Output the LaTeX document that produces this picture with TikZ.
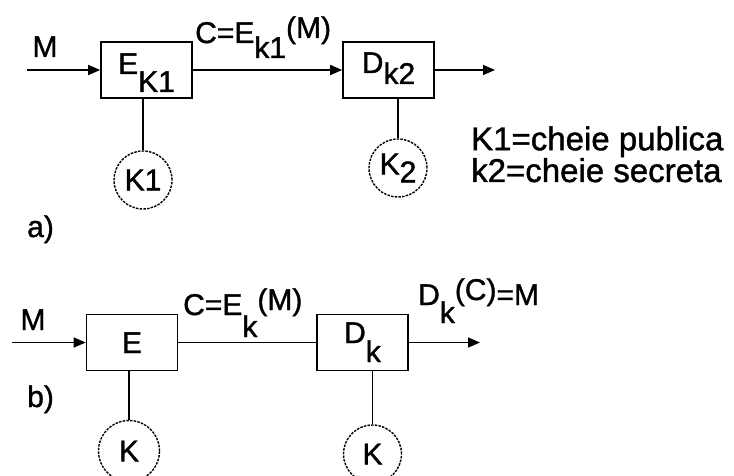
\documentclass[tikz,border=0pt]{standalone}
\usepackage{fontspec}
\setmainfont{Liberation Sans}[FakeBold=1.2]
\usetikzlibrary{arrows.meta,positioning}
\newcommand{\lowr}[2]{\raisebox{-#1pt}{#2}}
\newcommand{\upby}[1]{\raisebox{5pt}{#1}}
\tikzset{
  blk/.style   = {draw,line width=1.6pt,minimum width=91pt,minimum height=56pt,
                  inner sep=0pt,text height=22pt,font=\fontsize{30}{34}\selectfont},
  keyc/.style  = {circle,draw,line width=1.4pt,dash pattern=on 2.5pt off 1.2pt,
                  minimum size=58pt,inner sep=0pt,font=\fontsize{30}{34}\selectfont},
  arrow/.style = {-{Triangle[length=12pt,width=10pt]},line width=1.6pt},
  wire/.style  = {line width=1.6pt},
  lbl/.style   = {inner sep=0pt,font=\fontsize{30}{26}\selectfont},
}

\begin{document}
\begin{tikzpicture}[x=1pt,y=-1pt]
  \useasboundingbox (0,0) rectangle (734,476);
  % a) public key scheme
  \node[blk,text depth=14pt] (Ea) at (146.5,70) {E\lowr{18}{K1}};
  \node[blk,text depth=16pt] (Da) at (388.5,70) {D\lowr{11}{k2}};
  \node[keyc] (K1) at (143,180) {K1};
  \node[keyc] (K2) at (398,168) {K\lowr{8}{2}};
  \coordinate (ina) at (27,70);
  \coordinate (outa) at (495,70);
  \draw[arrow] (ina) -- (Ea);
  \draw[arrow] (Ea) -- (Da);
  \draw[arrow] (Da) -- (outa);
  \draw[wire] (K1) -- (K1 |- Ea.south);
  \draw[wire] (K2) -- (K2 |- Da.south);
  \node[lbl,anchor=base] (Ma) at (45,57) {M};
  \node[lbl,anchor=base west] (Ca) at (195,43) {C=E\lowr{15}{k1}\upby{(M)}};
  \node[lbl,anchor=base west,align=left,font=\fontsize{33}{26}\selectfont]
       (legend) at (471,182) {K1=cheie publica\\k2=cheie secreta};
  \node[lbl,anchor=base west] (ta) at (27,237) {a)};
  % b) secret key scheme
  \node[blk,text depth=1pt] (Eb) at (132,342.5) {E};
  \node[blk,text depth=21pt] (Db) at (362.5,342.5) {D\lowr{19}{k}};
  \node[keyc,minimum size=61pt] (Kb1) at (129,451) {K};
  \node[keyc] (Kb2) at (372.5,454) {K};
  \coordinate (inb) at (12,342.5);
  \coordinate (outb) at (480,342.5);
  \draw[arrow] (inb) -- (Eb);
  \draw[wire] (Eb) -- (Db);
  \draw[arrow] (Db) -- (outb);
  \draw[wire] (Kb1) -- (Kb1 |- Eb.south);
  \draw[wire] (Kb2) -- (Kb2 |- Db.south);
  \node[lbl,anchor=base] (Mb) at (33,330) {M};
  \node[lbl,anchor=base west] (Cb) at (183,315) {C=E\lowr{22}{k}\upby{(M)}};
  \node[lbl,anchor=base west] (Dout) at (418,305) {D\lowr{18}{k}\upby{(C)}=M};
  \node[lbl,anchor=base west] (tb) at (27,407) {b)};
\end{tikzpicture}
\end{document}
